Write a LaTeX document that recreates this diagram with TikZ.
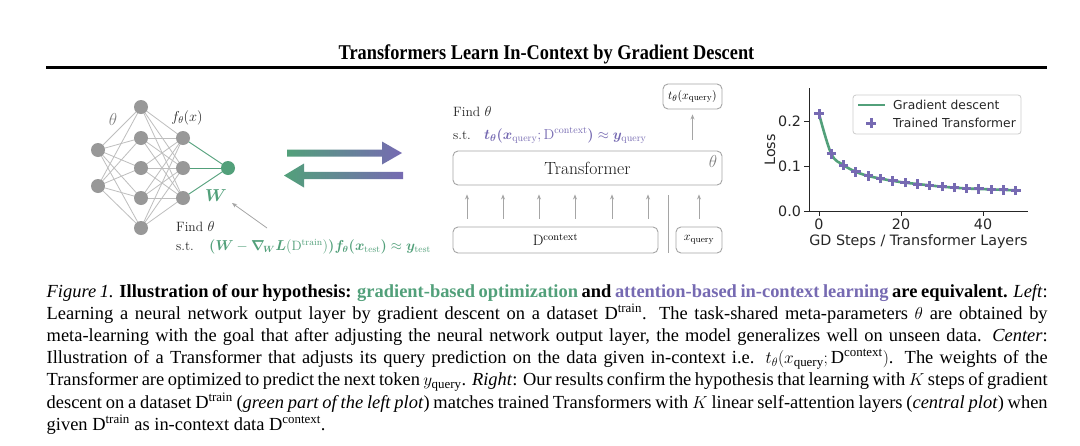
\documentclass[tikz,border=0pt]{standalone}
\usepackage{amsmath}
\usepackage{bm}
\usepackage{graphicx}
\usepackage{fontspec}
\usetikzlibrary{arrows.meta,calc}
\newfontfamily\capfont{Liberation Serif}
\newfontfamily\plotfont{DejaVu Sans}
\definecolor{gdgreen}{RGB}{82,160,122}
\definecolor{tfpurple}{RGB}{118,106,178}
\definecolor{nngray}{RGB}{152,152,152}
\definecolor{edgegray}{RGB}{190,190,190}
\definecolor{boxgray}{RGB}{165,165,165}
\definecolor{arrgray}{RGB}{165,165,165}
\pgfdeclarelayer{bg}
\pgfsetlayers{bg,main}
\tikzset{
 neuron/.style={circle, fill=nngray, minimum size=14pt, inner sep=0pt},
 outneuron/.style={circle, fill=gdgreen, minimum size=14pt, inner sep=0pt},
 nnedge/.style={draw=edgegray, line width=0.8pt},
 wedge/.style={draw=gdgreen, line width=0.9pt},
 garrow/.style={draw=arrgray, line width=0.8pt, -{Stealth[length=5pt,width=4pt]}},
 tbox/.style={draw=boxgray, rounded corners=5pt, line width=0.9pt, inner sep=0pt},
 small/.style={font=\fontsize{13.5}{16}\selectfont, inner sep=0pt, text=black!85},
 ptext/.style={font=\plotfont\fontsize{14.3}{17}\selectfont, inner sep=0pt, text=black!85},
 legtext/.style={font=\plotfont\fontsize{12.3}{15}\selectfont, inner sep=0pt, anchor=west, text=black!85},
 capline/.style={font=\capfont\fontsize{18.45}{22}\selectfont, inner sep=0pt, anchor=base west},
 mk/.style={draw=tfpurple, line width=3pt},
}
\begin{document}
\begin{tikzpicture}[x=1pt,y=-1pt]
\begin{pgfonlayer}{bg}
\fill[white] (0,0) rectangle (1080,445);
\end{pgfonlayer}
\useasboundingbox (0,0) rectangle (1080,445);

% ---- title and rule
\node[font=\capfont\bfseries\fontsize{21}{24}\selectfont, anchor=base, inner sep=0pt] (title) at (546.5,59.7) {\scalebox{0.873}[1]{Transformers Learn In-Context by Gradient Descent}};
\coordinate (r1) at (46,67.5);
\coordinate (r2) at (1047,67.5);
\draw[line width=2.5pt] (r1) -- (r2);

% ---- left: network
\node[neuron] (a1) at (98,150) {};
\node[neuron] (a2) at (98,186) {};
\foreach \i/\y in {1/107,2/138,3/168,4/198,5/228} \node[neuron] (b\i) at (141,\y) {};
\foreach \i/\y in {1/138,2/168,3/198} \node[neuron] (c\i) at (183,\y) {};
\node[outneuron] (out) at (228,168) {};
\begin{pgfonlayer}{bg}
\foreach \i in {1,2} \foreach \j in {1,...,5} \draw[nnedge] (a\i.center) -- (b\j.center);
\foreach \i in {1,...,5} \foreach \j in {1,2,3} \draw[nnedge] (b\i.center) -- (c\j.center);
\foreach \j in {1,2,3} \draw[wedge] (c\j.center) -- (out.center);
\end{pgfonlayer}
\node[font=\fontsize{18}{20}\selectfont, text=black!50, inner sep=0pt] (thlab) at (113,119) {$\theta$};
\node[font=\fontsize{14}{16}\selectfont, text=black!85, inner sep=0pt] (flab) at (187,117.5) {$f_\theta(x)$};
\node[font=\fontsize{16}{18}\selectfont, text=gdgreen, inner sep=0pt] (wlab) at (216,196) {$\bm{W}$};

\node[small, anchor=base west] (find1) at (176,231.5) {Find $\theta$};
\node[small, anchor=base west] (st1) at (176,250.5) {s.t.};
\node[small, anchor=base west, text=gdgreen] (eq1) at (209,250.5) {$\bm{(}\bm{W}-\bm{\nabla_{\!W}}\bm{L}(\mathrm{D}^{\mathrm{train}})\bm{)}\bm{f_\theta}\bm{(}\bm{x}_{\mathrm{test}}\bm{)}\approx\bm{y}_{\mathrm{test}}$};
\coordinate (ptail) at (267,228);
\coordinate (phead) at (232,203);
\draw[garrow] (ptail) -- (phead);

% ---- middle: two shaded arrows
\shade[left color=gdgreen, right color=tfpurple] (287,149.5) -- (382,149.5) -- (382,141.5) -- (402,153) -- (382,164.5) -- (382,156.5) -- (287,156.5) -- cycle;
\shade[left color=gdgreen, right color=tfpurple] (403,171.8) -- (304,171.8) -- (304,163.5) -- (284,175.5) -- (304,187.5) -- (304,179.2) -- (403,179.2) -- cycle;

% ---- center: transformer
\node[small, anchor=base west] (find2) at (453,116) {Find $\theta$};
\node[small, anchor=base west] (st2) at (453,139) {s.t.};
\node[small, anchor=base west, text=tfpurple, font=\fontsize{14.4}{17}\selectfont] (eq2) at (484,139) {$\bm{t_\theta}\bm{(}\bm{x}_{\mathrm{query}};\mathrm{D}^{\mathrm{context}}\bm{)}\approx\bm{y}_{\mathrm{query}}$};

\node[tbox, minimum width=269pt, minimum height=34pt, font=\fontsize{17.6}{20}\selectfont, text=black!90] (tf) at (587.5,168) {Transformer};
\node[font=\fontsize{16}{18}\selectfont, text=black!50, inner sep=0pt] (tfth) at (713,161) {$\theta$};
\node[tbox, minimum width=59pt, minimum height=25pt, font=\fontsize{13}{15}\selectfont] (tout) at (692.5,96.5) {$t_\theta(x_{\mathrm{query}})$};
\node[tbox, minimum width=205pt, minimum height=26pt, font=\fontsize{15}{17}\selectfont] (dctx) at (555.5,240) {$\mathrm{D}^{\mathrm{context}}$};
\node[tbox, minimum width=46pt, minimum height=26pt, font=\fontsize{13}{15}\selectfont] (xq) at (699,240) {$x_{\mathrm{query}}$};

\foreach \x [count=\i] in {467,503,539,575,612,648} \coordinate (k\i) at (\x,0);
\foreach \i in {1,...,6} \draw[garrow, shorten <=8pt, shorten >=9pt] (dctx.north -| k\i) -- (tf.south -| k\i);
\draw[garrow, shorten <=8pt, shorten >=9pt] (xq.north) -- (tf.south -| xq.north);
\draw[garrow, shorten <=11pt, shorten >=5pt] (tf.north -| tout.south) -- (tout.south);
\coordinate (s1) at (668,195);
\coordinate (s2) at (668,253);
\draw[draw=arrgray, line width=0.8pt] (s1) -- (s2);

% ---- right: plot
\begin{scope}[shift={(819pt,-211pt)}, x=4.1pt, y=450pt]
 \draw[black!85, line width=0.9pt] (-2.4,0.273) -- (-2.4,0) -- (51,0);
 \foreach \v/\t in {0/0.0,0.1/0.1,0.2/0.2} {
   \draw[black!85, line width=0.9pt] (-2.4,\v) -- ++(-5pt,0);
   \node[ptext, anchor=east] at ([xshift=-8pt]-2.4,\v) {\t};
 }
 \foreach \k in {0,20,40} {
   \draw[black!85, line width=0.9pt] (\k,0) -- ++(0,-5pt);
   \node[ptext, anchor=north] at ([yshift=-8pt]\k,0) {\k};
 }
 \draw[gdgreen, line width=2.6pt, line join=round] plot[smooth, tension=0.6] coordinates {(0,0.216) (3,0.127) (6,0.102) (9,0.087) (12,0.078) (15,0.072) (18,0.067) (21,0.063) (24,0.060) (27,0.057) (30,0.054) (33,0.052) (36,0.050) (39,0.049) (42,0.048) (45,0.047) (48,0.046)};
 \foreach \k/\v in {0/0.216,3/0.127,6/0.102,9/0.087,12/0.078,15/0.072,18/0.067,21/0.063,24/0.060,27/0.057,30/0.054,33/0.052,36/0.050,39/0.049,42/0.048,45/0.047,48/0.046}
   \draw[mk] (\k,\v) +(-4.7pt,0) -- +(4.7pt,0) (\k,\v) +(0,-4.7pt) -- +(0,4.7pt);
\end{scope}
\node[ptext, rotate=90] (ylab) at (770,150) {Loss};
\node[ptext] (xlab) at (918.5,242) {GD Steps / Transformer Layers};
\node[draw=black!20, fill=white, rounded corners=3pt, line width=0.8pt, minimum width=168pt, minimum height=39pt, inner sep=0pt] (leg) at (937,114.5) {};
\coordinate (l1) at (858,105);
\coordinate (l2) at (885,105);
\draw[gdgreen, line width=2.6pt] (l1) -- (l2);
\node[legtext] (lt1) at (893,105) {Gradient descent};
\coordinate (m1) at (871,123);
\draw[mk] (m1) +(-4.7pt,0) -- +(4.7pt,0) (m1) +(0,-4.7pt) -- +(0,4.7pt);
\node[legtext] (lt2) at (893,123) {Trained Transformer};

% ---- caption
\node[capline] (cap1) at (46.5,297) {\makebox[1001pt][s]{\textit{Figure 1.} \textbf{Illustration of our hypothesis: \textcolor{gdgreen}{gradient-based optimization} and \textcolor{tfpurple}{attention-based in-context learning} are equivalent.} \textit{Left}:}};
\node[capline] (cap2) at (46.5,319.2) {\makebox[1001pt][s]{Learning a neural network output layer by gradient descent on a dataset D\textsuperscript{train}. The task-shared meta-parameters $\theta$ are obtained by}};
\node[capline] (cap3) at (46.5,341.4) {\makebox[1001pt][s]{meta-learning with the goal that after adjusting the neural network output layer, the model generalizes well on unseen data. \textit{Center}:}};
\node[capline] (cap4) at (46.5,363.6) {\makebox[1001pt][s]{Illustration of a Transformer that adjusts its query prediction on the data given in-context i.e. $t_\theta(x_{\text{query}};\text{D}^{\text{context}})$. The weights of the}};
\node[capline] (cap5) at (46.5,385.8) {\makebox[1001pt][s]{Transformer are optimized to predict the next token $y_{\text{query}}$. \textit{Right}: Our results confirm the hypothesis that learning with $K$ steps of gradient}};
\node[capline] (cap6) at (46.5,408) {\makebox[1001pt][s]{descent on a dataset D\textsuperscript{train} (\textit{green part of the left plot}) matches trained Transformers with $K$ linear self-attention layers (\textit{central plot}) when}};
\node[capline] (cap7) at (46.5,430.2) {given D\textsuperscript{train} as in-context data D\textsuperscript{context}.};
\end{tikzpicture}
\end{document}
